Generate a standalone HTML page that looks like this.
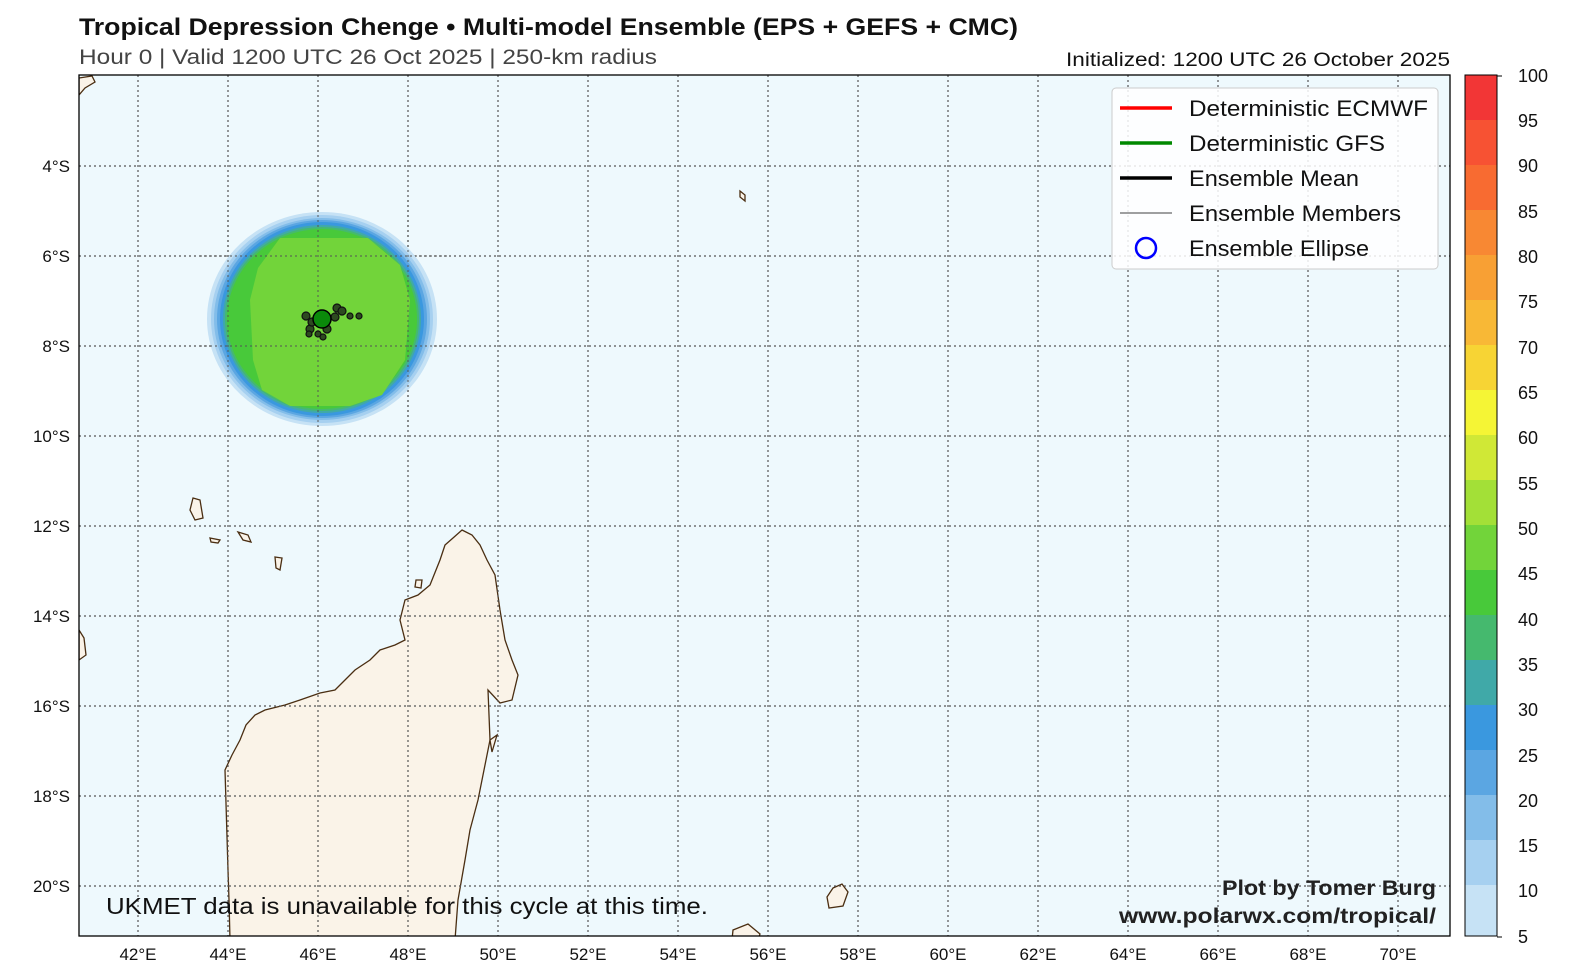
<!DOCTYPE html>
<html><head><meta charset="utf-8"><style>
html,body{margin:0;padding:0;background:#fff;overflow:hidden;width:1575px;height:978px;}
svg{display:block;}
</style></head><body>
<svg width="1575" height="978" xmlns="http://www.w3.org/2000/svg" font-family="Liberation Sans, sans-serif">
<defs><clipPath id="c"><rect x="79" y="75" width="1371" height="861"/></clipPath></defs>
<text x="79" y="35" font-size="24" font-weight="bold" fill="#111" textLength="939" lengthAdjust="spacingAndGlyphs">Tropical Depression Chenge • Multi-model Ensemble (EPS + GEFS + CMC)</text>
<text x="79" y="64" font-size="21" fill="#444" textLength="578" lengthAdjust="spacingAndGlyphs">Hour 0 | Valid 1200 UTC 26 Oct 2025 | 250-km radius</text>
<text x="1450" y="66" font-size="19" fill="#111" text-anchor="end" textLength="384" lengthAdjust="spacingAndGlyphs">Initialized: 1200 UTC 26 October 2025</text>
<rect x="79" y="75" width="1371" height="861" fill="#eef9fd"/>
<g clip-path="url(#c)">
<g stroke="#4a2e12" stroke-width="1.3" fill="#faf3e8">
<polygon points="462,530 472,535 480,545 487,560 495,575 500,610 505,640 512,660 518,675 512,700 500,703 488,690 490,740 484,770 478,800 470,830 465,860 458,900 455,940 230,940 229,900 228,870 225,770 232,755 240,740 246,725 255,715 265,710 285,705 300,700 320,693 335,690 345,680 355,670 370,660 380,650 395,645 405,640 400,620 405,600 418,595 430,585 436,570 440,560 445,545 453,538"/>
<polygon points="193,498 200,500 203,518 195,520 190,510"/>
<polygon points="210,538 220,540 218,543 211,542"/>
<polygon points="238,532 248,535 251,542 243,540"/>
<polygon points="275,557 282,558 280,570 276,568"/>
<polygon points="416,580 422,580 421,588 415,587"/>
<polygon points="740,191 745,195 745,201 740,197"/>
<polygon points="833,888 842,884 848,892 843,906 829,908 827,897"/>
<polygon points="733,930 748,924 760,934 758,940 732,940"/>
<polygon points="79,78 92,76 95,82 85,88 79,95"/>
<polygon points="79,630 84,638 86,655 79,660"/>
<polygon points="490,740 497,735 492,752"/>
</g>
<g stroke="#555" stroke-width="1.2" stroke-dasharray="2,3">
<line x1="138" y1="75" x2="138" y2="936"/><line x1="228" y1="75" x2="228" y2="936"/><line x1="318" y1="75" x2="318" y2="936"/><line x1="408" y1="75" x2="408" y2="936"/><line x1="498" y1="75" x2="498" y2="936"/><line x1="588" y1="75" x2="588" y2="936"/><line x1="678" y1="75" x2="678" y2="936"/><line x1="768" y1="75" x2="768" y2="936"/><line x1="858" y1="75" x2="858" y2="936"/><line x1="948" y1="75" x2="948" y2="936"/><line x1="1038" y1="75" x2="1038" y2="936"/><line x1="1128" y1="75" x2="1128" y2="936"/><line x1="1218" y1="75" x2="1218" y2="936"/><line x1="1308" y1="75" x2="1308" y2="936"/><line x1="1398" y1="75" x2="1398" y2="936"/>
<line x1="79" y1="166" x2="1450" y2="166"/><line x1="79" y1="256" x2="1450" y2="256"/><line x1="79" y1="346" x2="1450" y2="346"/><line x1="79" y1="436" x2="1450" y2="436"/><line x1="79" y1="526" x2="1450" y2="526"/><line x1="79" y1="616" x2="1450" y2="616"/><line x1="79" y1="706" x2="1450" y2="706"/><line x1="79" y1="796" x2="1450" y2="796"/><line x1="79" y1="886" x2="1450" y2="886"/>
</g>
<g>
<ellipse cx="322" cy="319" rx="115" ry="107" fill="#c6e2f5"/>
<ellipse cx="322" cy="319" rx="111" ry="104" fill="#a6d0f0"/>
<ellipse cx="322" cy="319" rx="108" ry="101" fill="#83bde9"/>
<ellipse cx="322" cy="319" rx="105" ry="99" fill="#5ba6e2"/>
<ellipse cx="322" cy="319" rx="102" ry="97" fill="#3a98df"/>
<ellipse cx="322" cy="319" rx="99" ry="94" fill="#40a9a8"/>
<ellipse cx="322" cy="319" rx="97" ry="92" fill="#45b96e"/>
<ellipse cx="322" cy="319" rx="95" ry="90" fill="#48c93a"/>
<polygon points="280,238 368,238 400,265 410,300 405,360 382,395 350,406 290,406 262,390 253,360 250,300 258,268" fill="#72d43a"/>
</g>
<g stroke="#555" stroke-width="1.2" stroke-dasharray="2,3" opacity="0.8">
<line x1="228" y1="200" x2="228" y2="430"/><line x1="318" y1="200" x2="318" y2="430"/><line x1="408" y1="200" x2="408" y2="430"/>
<line x1="200" y1="256" x2="450" y2="256"/><line x1="200" y1="346" x2="450" y2="346"/>
</g>
<g fill="#2d4a20" stroke="#111" stroke-width="1.2">
<circle cx="306" cy="316" r="4"/><circle cx="337" cy="308" r="4"/><circle cx="342" cy="311" r="4"/><circle cx="350" cy="316" r="3"/><circle cx="359" cy="316" r="3"/><circle cx="310" cy="329" r="4"/><circle cx="309" cy="334" r="3"/><circle cx="318" cy="334" r="3"/><circle cx="323" cy="337" r="3"/><circle cx="327" cy="329" r="4"/><circle cx="335" cy="317" r="4"/><circle cx="312" cy="322" r="4"/>
<circle cx="322" cy="319" r="9" fill="#0a8a0a" stroke="#000" stroke-width="1.5"/>
</g>
</g>
<rect x="79" y="75" width="1371" height="861" fill="none" stroke="#000" stroke-width="1.3"/>
<rect x="1112" y="88" width="326" height="181" rx="4" fill="#fff" fill-opacity="0.85" stroke="#ccc"/>
<g stroke-width="3.5"><line x1="1120" y1="108" x2="1172" y2="108" stroke="#f00"/><line x1="1120" y1="143" x2="1172" y2="143" stroke="#080"/><line x1="1120" y1="178" x2="1172" y2="178" stroke="#000"/></g>
<line x1="1120" y1="213" x2="1172" y2="213" stroke="#000" stroke-width="0.8"/>
<circle cx="1146" cy="248" r="10" fill="none" stroke="#00f" stroke-width="2.5"/>
<g font-size="22" fill="#111"><text x="1189" y="116" textLength="239" lengthAdjust="spacingAndGlyphs">Deterministic ECMWF</text><text x="1189" y="151" textLength="196" lengthAdjust="spacingAndGlyphs">Deterministic GFS</text><text x="1189" y="186" textLength="170" lengthAdjust="spacingAndGlyphs">Ensemble Mean</text><text x="1189" y="221" textLength="212" lengthAdjust="spacingAndGlyphs">Ensemble Members</text><text x="1189" y="256" textLength="180" lengthAdjust="spacingAndGlyphs">Ensemble Ellipse</text></g>
<text x="106" y="914" font-size="23" fill="#111" textLength="602" lengthAdjust="spacingAndGlyphs">UKMET data is unavailable for this cycle at this time.</text>
<text x="1436" y="895" font-size="21" font-weight="bold" fill="#222" text-anchor="end" textLength="214" lengthAdjust="spacingAndGlyphs">Plot by Tomer Burg</text>
<text x="1436" y="923" font-size="21" font-weight="bold" fill="#222" text-anchor="end" textLength="317" lengthAdjust="spacingAndGlyphs">www.polarwx.com/tropical/</text>
<g font-size="17" fill="#111" text-anchor="end"><text x="70" y="172">4°S</text><text x="70" y="262">6°S</text><text x="70" y="352">8°S</text><text x="70" y="442">10°S</text><text x="70" y="532">12°S</text><text x="70" y="622">14°S</text><text x="70" y="712">16°S</text><text x="70" y="802">18°S</text><text x="70" y="892">20°S</text></g>
<g font-size="17" fill="#111" text-anchor="middle"><text x="138" y="960">42°E</text><text x="228" y="960">44°E</text><text x="318" y="960">46°E</text><text x="408" y="960">48°E</text><text x="498" y="960">50°E</text><text x="588" y="960">52°E</text><text x="678" y="960">54°E</text><text x="768" y="960">56°E</text><text x="858" y="960">58°E</text><text x="948" y="960">60°E</text><text x="1038" y="960">62°E</text><text x="1128" y="960">64°E</text><text x="1218" y="960">66°E</text><text x="1308" y="960">68°E</text><text x="1398" y="960">70°E</text></g>
<g>
<rect x="1465" y="75" width="32" height="46" fill="#f23636"/><rect x="1465" y="120" width="32" height="46" fill="#f75233"/><rect x="1465" y="165" width="32" height="46" fill="#f86b31"/><rect x="1465" y="210" width="32" height="46" fill="#f88833"/><rect x="1465" y="255" width="32" height="46" fill="#f8a034"/><rect x="1465" y="300" width="32" height="46" fill="#f8b836"/><rect x="1465" y="345" width="32" height="46" fill="#f7d434"/><rect x="1465" y="390" width="32" height="46" fill="#f5f535"/><rect x="1465" y="435" width="32" height="46" fill="#d0e836"/><rect x="1465" y="480" width="32" height="46" fill="#a3e037"/><rect x="1465" y="525" width="32" height="46" fill="#72d43a"/><rect x="1465" y="570" width="32" height="46" fill="#48c93a"/><rect x="1465" y="615" width="32" height="46" fill="#45b96e"/><rect x="1465" y="660" width="32" height="46" fill="#40a9a8"/><rect x="1465" y="705" width="32" height="46" fill="#3a98df"/><rect x="1465" y="750" width="32" height="46" fill="#5ba6e2"/><rect x="1465" y="795" width="32" height="46" fill="#83bde9"/><rect x="1465" y="840" width="32" height="46" fill="#a6d0f0"/><rect x="1465" y="885" width="32" height="51" fill="#c6e2f5"/>
<rect x="1465" y="75" width="32" height="861" fill="none" stroke="#000"/>
</g>
<g font-size="18" fill="#111"><text x="1518" y="82">100</text><text x="1518" y="127">95</text><text x="1518" y="172">90</text><text x="1518" y="218">85</text><text x="1518" y="263">80</text><text x="1518" y="308">75</text><text x="1518" y="354">70</text><text x="1518" y="399">65</text><text x="1518" y="444">60</text><text x="1518" y="490">55</text><text x="1518" y="535">50</text><text x="1518" y="580">45</text><text x="1518" y="626">40</text><text x="1518" y="671">35</text><text x="1518" y="716">30</text><text x="1518" y="762">25</text><text x="1518" y="807">20</text><text x="1518" y="852">15</text><text x="1518" y="897">10</text><text x="1518" y="943">5</text></g>
<g stroke="#000"><line x1="1497" y1="76" x2="1502" y2="76"/><line x1="1497" y1="937" x2="1502" y2="937"/></g>
</svg>
</body></html>
